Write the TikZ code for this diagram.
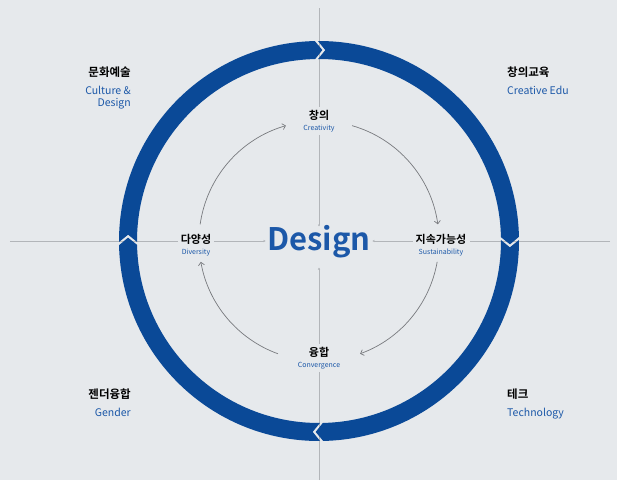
\documentclass[tikz,border=0pt]{standalone}
\usepackage{fontspec}
\setmainfont{Noto Sans CJK KR}[BoldFont={Noto Sans CJK KR Bold}]
\definecolor{bggray}{RGB}{230,233,236}
\definecolor{ringblue}{RGB}{10,73,151}
\definecolor{textblue}{RGB}{28,88,168}
\definecolor{axisgray}{RGB}{178,181,185}
\definecolor{arcgray}{RGB}{120,122,126}
\usetikzlibrary{arrows.meta,positioning}

\newcommand\inlab[2]{\textbf{#1}\\[-1pt]{\fontsize{7}{7.5}\selectfont\color{textblue}#2}}

\begin{document}
\begin{tikzpicture}[x=1pt,y=1pt,
  axisline/.style={draw=axisgray, line width=0.9pt},
  tolabel/.style={axisline, -{Latex[length=2pt,width=2.4pt]}, shorten >=0.5pt},
  cyclearrow/.style={draw=arcgray, line width=0.7pt, -{Straight Barb[length=3pt,width=6pt]}},
  inlabel/.style={align=center, inner sep=3pt, font=\fontsize{11}{12}\selectfont},
  krtitle/.style={font=\fontsize{11.5}{13}\selectfont\bfseries, inner sep=0pt},
  entitle/.style={font=\fontsize{10.5}{12.5}\selectfont, text=textblue, inner sep=0pt}]
  % background and frame
  \fill[bggray] (-319,-239) rectangle (298,241);
  \useasboundingbox (-319,-239) rectangle (298,241);

  % centre and inner labels
  \node[inner sep=1pt, text=textblue, font=\fontsize{31}{34}\selectfont\bfseries] (design) at (0,-1) {Design};
  \node[inlabel] (cre) at (0,120) {\inlab{창의}{Creativity}};
  \node[inlabel] (sus) at (122,-4) {\inlab{지속가능성}{Sustainability}};
  \node[inlabel] (con) at (0,-117) {\inlab{융합}{Convergence}};
  \node[inlabel] (div) at (-123,-4) {\inlab{다양성}{Diversity}};

  % axes
  \coordinate (top) at (0,233);
  \coordinate (bot) at (0,-239);
  \coordinate (lft) at (-309,0);
  \coordinate (rgt) at (291,0);
  \draw[axisline] (top) -- (cre.north);
  \draw[axisline] (bot) -- (con.south);
  \draw[axisline] (lft) -- (div.west |- lft);
  \draw[axisline] (rgt) -- (sus.east |- rgt);
  \draw[tolabel] (cre.south) -- (design.north |- 0,14);
  \draw[tolabel] (con.north) -- (0,-26);
  \draw[tolabel] (div.east |- lft) -- (design.west |- lft);
  \draw[tolabel] (sus.west |- rgt) -- (design.east |- rgt);

  % outer ring, four arrow segments (clockwise)
  \def\ro{200pt}\def\ri{182pt}\def\rm{191pt}
  \foreach \a in {90,0,-90,-180}{
    \fill[ringblue] ({\a+0.3}:\ro) arc[start angle={\a+0.3}, end angle={\a-88.8}, radius=\ro]
      -- ({\a-91}:\rm) -- ({\a-88.8}:\ri)
      arc[start angle={\a-88.8}, end angle={\a+0.3}, radius=\ri]
      -- ({\a-1.9}:\rm) -- cycle;
  }

  % inner cycle
  \foreach \s/\e in {74/8,-10/-70,-110/-170,172/106}
    \draw[cyclearrow] (\s:120pt) arc[start angle=\s, end angle=\e, radius=120pt];

  % corner labels
  \foreach \n/\kr/\en/\x/\y/\side/\al in {%
    arts/문화예술/{Culture \&\\Design}/-188/174/east/right,%
    edu/창의교육/Creative Edu/188/174/west/left,%
    gender/젠더융합/Gender/-188/-148/east/right,%
    tech/테크/Technology/188/-148/west/left%
  }{
    \node[krtitle, anchor=north \side] (\n) at (\x,\y) {\kr};
    \node[entitle, anchor=north \side, align=\al] (\n-en) at ([yshift=-7.5pt]\n.south \side) {\en};
  }
\end{tikzpicture}
\end{document}
